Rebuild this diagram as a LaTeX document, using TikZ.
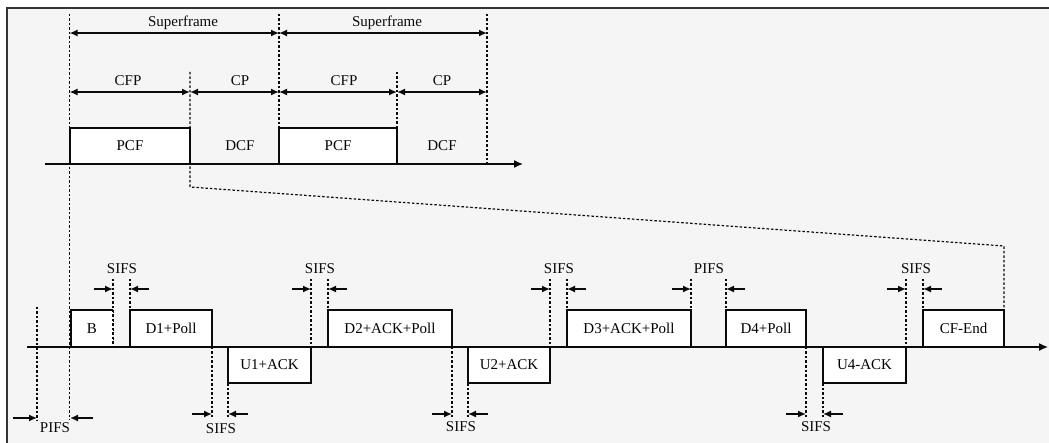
\documentclass[tikz,border=0pt]{standalone}
\usepackage{fontspec}
\setmainfont{Liberation Serif}
\usetikzlibrary{arrows.meta}
\definecolor{bg}{HTML}{F5F5F5}
\definecolor{ink}{HTML}{0A0A0A}
\begin{document}
\begin{tikzpicture}[x=1pt,y=-1pt,
  box/.style={draw=ink, line width=1.3pt, fill=white, inner sep=0pt, outer sep=0pt,
    anchor=south west, font=\fontsize{15}{15}\selectfont, minimum height=37pt},
  lowbox/.style={box, anchor=north west, minimum height=36pt},
  lbl/.style={inner sep=0pt, font=\fontsize{15}{15}\selectfont, text=ink},
  guide/.style={draw=ink, line width=1.4pt, dash pattern=on 2.5pt off 2pt},
  marker/.style={draw=ink, -{Latex[length=8pt,width=7pt]}, line width=1.5pt},
  span/.style={draw=ink, {Latex[length=8pt,width=7pt]}-{Latex[length=8pt,width=7pt]}, line width=1.5pt},
  axis/.style={draw=ink, -{Latex[length=9pt,width=8pt]}, line width=1.3pt}]
\useasboundingbox (0,0) rectangle (1049,443);
\fill[white] (0,0) rectangle (1049,443);
\fill[bg] (7,8) rectangle (1049,443);
\draw[line width=2pt, draw=black!80] (7,443) -- (7,8) -- (1049,8);

% ---------- top: coordinates ----------
\coordinate (t0a) at (69.5,14);  \coordinate (t0b) at (69.5,420);
\coordinate (t1a) at (190,72);   \coordinate (t1b) at (190,187);
\coordinate (t2a) at (279,14);   \coordinate (t2b) at (279,128);
\coordinate (t3a) at (397,72);   \coordinate (t3b) at (397,128);
\coordinate (t4a) at (487,14);   \coordinate (t4b) at (487,164);
\coordinate (zoomR) at (1004,246);

% guides (top)
\draw[guide] (t0a) -- (t0b);
\draw[guide, line width=1.2pt] (t1a) -- (t1b) -- (zoomR) -- (1004,310);
\draw[guide] (t2a) -- (t2b);
\draw[guide] (t3a) -- (t3b);
\draw[guide] (t4a) -- (t4b);

% spans
\coordinate (s0) at (69.5,33); \coordinate (s1) at (279,33); \coordinate (s2) at (487,33);
\draw[span] (s0) -- (s1);
\draw[span] (s1) -- (s2);
\node[lbl] (sf1) at (183,23) {Superframe};
\node[lbl] (sf2) at (387,23) {Superframe};
\coordinate (c0) at (69.5,92); \coordinate (c1) at (190,92); \coordinate (c2) at (279,92);
\coordinate (c3) at (397,92); \coordinate (c4) at (487,92);
\draw[span] (c0) -- (c1);
\draw[span] (c1) -- (c2);
\draw[span] (c2) -- (c3);
\draw[span] (c3) -- (c4);
\node[lbl] (cfp1) at (128,81) {CFP};
\node[lbl] (cp1) at (240,81) {CP};
\node[lbl] (cfp2) at (344,81) {CFP};
\node[lbl] (cp2) at (442,81) {CP};

% top axis and boxes
\coordinate (ta0) at (45,164); \coordinate (ta1) at (523,164);
\draw[axis] (ta0) -- (ta1);
\node[box, minimum width=120pt, minimum height=36pt] (pcf1) at (70,164) {PCF};
\node[box, minimum width=118pt, minimum height=36pt] (pcf2) at (279,164) {PCF};
\node[lbl] (dcf1) at (240,146) {DCF};
\node[lbl] (dcf2) at (442,146) {DCF};

% ---------- bottom ----------
\coordinate (ba0) at (27,347); \coordinate (ba1) at (1048,347);

% guides (bottom)
\draw[guide] (37,307) -- (37,420);
\draw[guide] (113,279) -- (113,347);
\draw[guide] (130,279) -- (130,347);
\draw[guide] (212,347) -- (212,417);
\draw[guide] (228,383) -- (228,417);
\draw[guide] (311,279) -- (311,347);
\draw[guide] (328,279) -- (328,310);
\draw[guide] (452,347) -- (452,417);
\draw[guide] (468,383) -- (468,417);
\draw[guide] (550,279) -- (550,347);
\draw[guide] (567,279) -- (567,310);
\draw[guide] (691,279) -- (691,310);
\draw[guide] (726,279) -- (726,310);
\draw[guide] (806,347) -- (806,417);
\draw[guide] (823,383) -- (823,417);
\draw[guide] (906,279) -- (906,347);
\draw[guide] (923,279) -- (923,310);

\draw[axis] (ba0) -- (ba1);

% boxes
\node[box, draw=none, minimum width=42pt] (B) at (71,347) {B};
\draw[ink, line width=1.3pt] (B.south east) -- (B.south west) -- (B.north west) -- (B.north east);
\draw[guide, line width=1.6pt] (B.north east) -- (B.south east);
\node[box, minimum width=82pt] (D1) at (130,347) {D1+Poll};
\node[lowbox, minimum width=83pt] (U1) at (228,347) {U1+ACK};
\node[box, minimum width=124pt] (D2) at (328,347) {D2+ACK+Poll};
\node[lowbox, minimum width=82pt] (U2) at (468,347) {U2+ACK};
\node[box, minimum width=124pt] (D3) at (567,347) {D3+ACK+Poll};
\node[box, minimum width=80pt] (D4) at (726,347) {D4+Poll};
\node[lowbox, minimum width=83pt] (U4) at (823,347) {U4-ACK};
\node[box, minimum width=81pt] (CFE) at (923,347) {CF-End};

% interval markers, top row
\foreach \l/\r/\n in {113/130/s1, 311/328/s2, 550/567/s3, 906/923/s5, 691/726/p2} {
  \coordinate (\n la) at (\l-19,289); \coordinate (\n lb) at (\l,289);
  \coordinate (\n ra) at (\r+19,289); \coordinate (\n rb) at (\r,289);
  \draw[marker] (\n la) -- (\n lb);
  \draw[marker] (\n ra) -- (\n rb);
}
\node[lbl] (L1) at (122,269) {SIFS};
\node[lbl] (L2) at (320,269) {SIFS};
\node[lbl] (L3) at (559,269) {SIFS};
\node[lbl] (L4) at (709,269) {PIFS};
\node[lbl] (L5) at (916,269) {SIFS};

% interval markers, bottom row
\foreach \l/\r/\n in {212/228/b1, 452/468/b2, 806/823/b3} {
  \coordinate (\n la) at (\l-20,414); \coordinate (\n lb) at (\l,414);
  \coordinate (\n ra) at (\r+20,414); \coordinate (\n rb) at (\r,414);
  \draw[marker] (\n la) -- (\n lb);
  \draw[marker] (\n ra) -- (\n rb);
}
\coordinate (p1la) at (13,418); \coordinate (p1lb) at (37,418);
\coordinate (p1ra) at (93,418); \coordinate (p1rb) at (70,418);
\draw[marker] (p1la) -- (p1lb);
\draw[marker] (p1ra) -- (p1rb);
\node[lbl] (L6) at (221,429) {SIFS};
\node[lbl] (L7) at (461,427) {SIFS};
\node[lbl] (L8) at (816,427) {SIFS};
\node[lbl] (L9) at (55,428) {PIFS};
\end{tikzpicture}
\end{document}
